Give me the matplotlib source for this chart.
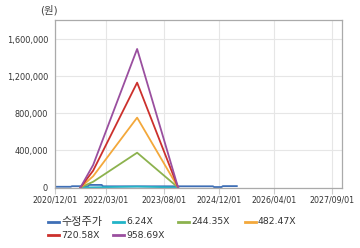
import matplotlib
matplotlib.use("Agg")
import matplotlib.pyplot as plt
import matplotlib.dates as mdates
from matplotlib.lines import Line2D
from matplotlib.ticker import FuncFormatter
import pandas as pd

plt.rcParams['font.family'] = ['DejaVu Sans', 'Noto Sans CJK KR']

# Data
price_dates = ['2020-12-01', '2021-04-20', '2021-05-01', '2021-09-20', '2021-10-01',
               '2022-01-20', '2022-02-01', '2024-10-05', '2024-10-15', '2024-12-20',
               '2025-01-01', '2025-05-05']
price_values = [8000, 8000, 14000, 14000, 28000, 28000, 13000, 13000, 5000, 5000,
                15000, 15000]

band_dates = ['2021-07-15', '2021-11-05', '2022-12-01', '2023-11-30']
band_6_24 = [0, 1600, 9700, 0]
band_244_35 = [0, 62000, 376000, 0]
band_482_47 = [0, 122000, 755000, 0]
band_720_58 = [0, 182000, 1133000, 0]
band_958_69 = [0, 243000, 1497000, 0]

series_labels = ['수정주가', '6.24X', '244.35X', '482.47X', '720.58X', '958.69X']
x_ticks = ['2020-12-01', '2022-03-01', '2023-08-01', '2024-12-01', '2026-04-01', '2027-09-01']
y_ticks = [0, 400000, 800000, 1200000, 1600000]

colors = ['#3f6fb6', '#22b4c8', '#8cb24e', '#f3a83b', '#cc302c', '#9a4f9f']

fig = plt.figure(figsize=(3.6, 2.48), dpi=100)
ax = fig.add_axes([55/360, 1-187.5/248, 287/360, 167.5/248])

pd_price = pd.to_datetime(price_dates)
pd_band = pd.to_datetime(band_dates)
series = [(pd_price, price_values), (pd_band, band_6_24), (pd_band, band_244_35),
          (pd_band, band_482_47), (pd_band, band_720_58), (pd_band, band_958_69)]

for (d, v), c, lab in zip(series, colors, series_labels):
    ax.plot(d, v, color=c, lw=1.3, label=lab)

ax.set_xlim(pd.Timestamp('2020-12-01'), pd.Timestamp('2027-11-26'))
ax.set_ylim(0, 1810000)
ax.set_xticks(pd.to_datetime(x_ticks))
ax.xaxis.set_major_formatter(mdates.DateFormatter('%Y/%m/%d'))
ax.set_yticks(y_ticks)
ax.yaxis.set_major_formatter(FuncFormatter(lambda v, p: f'{int(v):,}'))

ax.grid(True, color='#e6e6e6', lw=0.8)
ax.set_axisbelow(True)
for s in ax.spines.values():
    s.set_color('#aaaaaa')
    s.set_linewidth(0.9)
ax.tick_params(axis='x', length=4, width=0.8, color='#cccccc', labelsize=5.7,
               labelcolor='#333333', pad=1.5)
ax.tick_params(axis='y', length=0, labelsize=5.9, labelcolor='#333333', pad=5)

fig.text(40/360, 1-10/248, '(원)', fontsize=7.5, color='#444444', va='center', ha='left')

# Legend (row-major, fixed column spacing)
leg_pos = [(48, 222), (113, 222), (178, 222), (245, 222), (48, 235), (113, 235)]
for (px, py), c, lab in zip(leg_pos, colors, series_labels):
    fig.add_artist(Line2D([px/360, (px+11)/360], [1-py/248, 1-py/248],
                          color=c, lw=2, transform=fig.transFigure))
    fs = 8 if lab == '수정주가' else 6.7
    fig.text((px+13)/360, 1-py/248, lab, fontsize=fs, color='#333333',
             va='center', ha='left')

fig.savefig('out.png', dpi=100)
